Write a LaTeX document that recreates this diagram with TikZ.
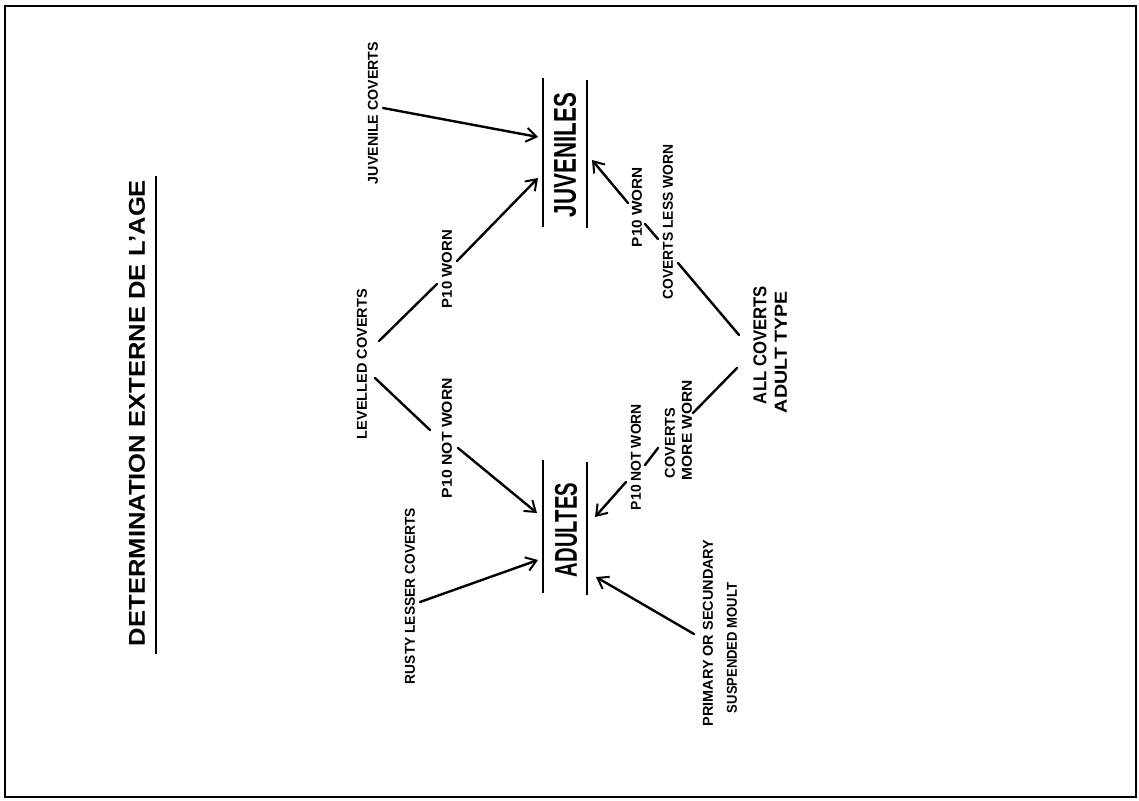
\documentclass[tikz,border=0pt]{standalone}
\usepackage{fontspec}
\setmainfont{Liberation Sans}
\usetikzlibrary{arrows.meta}
\newcommand\fitbox[3]{\resizebox{#1pt}{#2pt}{#3}}
\begin{document}
\begin{tikzpicture}[x=1pt,y=-1pt,
  lab/.style={rotate=90,inner sep=0pt,font=\bfseries},
  big/.style={rotate=90,inner sep=0pt,font=\bfseries},
  pen/.style={line width=2.4pt,line cap=round},
  arr/.style={pen,-{Straight Barb[length=10pt,width=14pt,line width=2pt]}},
  rulebar/.style={line width=2.2pt}]
\useasboundingbox (0,0) rectangle (1139,800);
\draw[line width=2pt] (5,6) rectangle (1136,797);

% title
\node[big] (title) at (137,413) {\fitbox{466}{16}{DETERMINATION EXTERNE DE L’AGE}};
\draw[rulebar] (156,176) -- (156,654);

% main boxes
\node[big] (juv) at (565,155) {\fitbox{124}{22}{JUVENILES}};
\draw[rulebar] (543,78) -- (543,227);
\draw[rulebar] (587,80) -- (587,228);
\node[big] (adu) at (566,530) {\fitbox{94}{22}{ADULTES}};
\draw[rulebar] (543,460) -- (543,593);
\draw[rulebar] (587,462) -- (587,595);

% labels
\node[lab] (jc) at (373,113) {\fitbox{142}{10}{JUVENILE COVERTS}};
\node[lab] (lc) at (362,364) {\fitbox{150}{10}{LEVELLED COVERTS}};
\node[lab] (pwl) at (447,269) {\fitbox{78}{10}{P10 WORN}};
\node[lab] (pnwl) at (447,438) {\fitbox{120}{10}{P10 NOT WORN}};
\node[lab] (rlc) at (410,596) {\fitbox{176}{10}{RUSTY LESSER COVERTS}};
\node[lab] (pwr) at (637,207) {\fitbox{80}{10}{P10 WORN}};
\node[lab] (clw) at (668,222) {\fitbox{155}{10}{COVERTS LESS WORN}};
\node[lab] (acat) at (760,345) {\fitbox{118}{13}{ALL COVERTS}};
\node[lab] (acat2) at (781,352) {\fitbox{122}{12}{ADULT TYPE}};
\node[lab] (pnwr) at (636,457) {\fitbox{106}{10}{P10 NOT WORN}};
\node[lab] (cmw) at (670,443) {\fitbox{70}{10}{COVERTS}};
\node[lab] (cmw2) at (687,430) {\fitbox{100}{10}{MORE WORN}};
\node[lab] (prim) at (708,633) {\fitbox{187}{10}{PRIMARY OR SECUNDARY}};
\node[lab] (prim2) at (732,648) {\fitbox{130}{10}{SUSPENDED MOULT}};

% connector end points
\coordinate (jc-o) at (383,108);   \coordinate (juv-a) at (538,137);
\coordinate (lc-u) at (379,341);   \coordinate (pwl-i) at (437,284);
\coordinate (pwl-o) at (457,261);  \coordinate (juv-b) at (538,178);
\coordinate (lc-d) at (375,378);   \coordinate (pnwl-i) at (430,430);
\coordinate (pnwl-o) at (458,448); \coordinate (adu-a) at (537,513);
\coordinate (rlc-o) at (420,602);  \coordinate (adu-b) at (538,560);
\coordinate (pwr-o) at (628,203);  \coordinate (juv-c) at (592,160);
\coordinate (pwr-i) at (645,224);  \coordinate (clw-o) at (658,239);
\coordinate (clw-i) at (678,263);  \coordinate (acat-u) at (739,335);
\coordinate (acat-d) at (737,368); \coordinate (cmw-i) at (693,413);
\coordinate (cmw-o) at (658,448);  \coordinate (pnwr-i) at (645,465);
\coordinate (pnwr-o) at (626,482); \coordinate (adu-c) at (595,517);
\coordinate (prim-o) at (694,634); \coordinate (adu-d) at (596,577);

% connectors
\draw[arr] (jc-o) -- (juv-a);
\draw[pen] (lc-u) -- (pwl-i);
\draw[arr] (pwl-o) -- (juv-b);
\draw[pen] (lc-d) -- (pnwl-i);
\draw[arr] (pnwl-o) -- (adu-a);
\draw[arr] (rlc-o) -- (adu-b);
\draw[arr] (pwr-o) -- (juv-c);
\draw[pen] (pwr-i) -- (clw-o);
\draw[pen] (clw-i) -- (acat-u);
\draw[pen] (acat-d) -- (cmw-i);
\draw[pen] (cmw-o) -- (pnwr-i);
\draw[arr] (pnwr-o) -- (adu-c);
\draw[arr] (prim-o) -- (adu-d);
\end{tikzpicture}
\end{document}
